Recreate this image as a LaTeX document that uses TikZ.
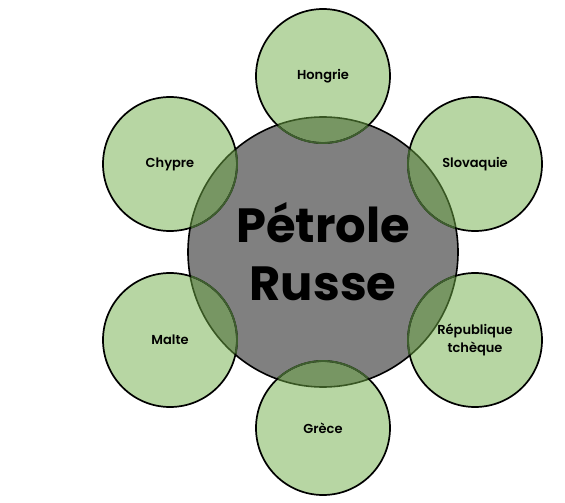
\documentclass[tikz,border=0pt]{standalone}
\usepackage{fontspec}
\setmainfont{Poppins}[UprightFont=* SemiBold,BoldFont=* Bold]
\definecolor{satgreen}{HTML}{70AD47}
\definecolor{fadeline}{HTML}{3E5E2E}
\definecolor{centergray}{HTML}{808080}
\begin{document}
\begin{tikzpicture}[x=1pt,y=-1pt]
\tikzset{
  outer/.style={circle,minimum size=134pt,inner sep=0pt,align=center},
  sat/.style={outer,fill=satgreen,fill opacity=0.5,text opacity=1},
  lbl/.style={align=center,font=\fontsize{13}{18.5}\selectfont},
}
\useasboundingbox (0,0) rectangle (565,503);
% centre
\node[circle,minimum size=270pt,inner sep=0pt,fill=centergray,draw=black,line width=1.6pt] (c) at (323,252) {};
% satellites fill
\foreach \n/\x/\y in {h/323/76, s/475/164, r/475/340, g/323/428, m/170/340, cy/170/164}{
  \node[sat] (\n) at (\x,\y) {};
}
% satellite outlines
\foreach \n in {h,s,r,g,m,cy}{
  \draw[line width=1.7pt] (\n) circle[radius=67pt];
}
\begin{scope}
  \clip (c) circle[radius=134pt];
  \foreach \n in {h,s,r,g,m,cy}{
    \draw[line width=1.9pt,fadeline] (\n) circle[radius=67pt];
  }
\end{scope}
% texts
\node[lbl] at (h) {Hongrie};
\node[lbl] at (s) {Slovaquie};
\node[lbl] at (r) {République\\tchèque};
\node[lbl] at (g) {Grèce};
\node[lbl] at (m) {Malte};
\node[lbl] at (cy) {Chypre};
\node[align=center,font=\bfseries\fontsize{48}{58}\selectfont] at (c) {Pétrole\\Russe};
\end{tikzpicture}
\end{document}
